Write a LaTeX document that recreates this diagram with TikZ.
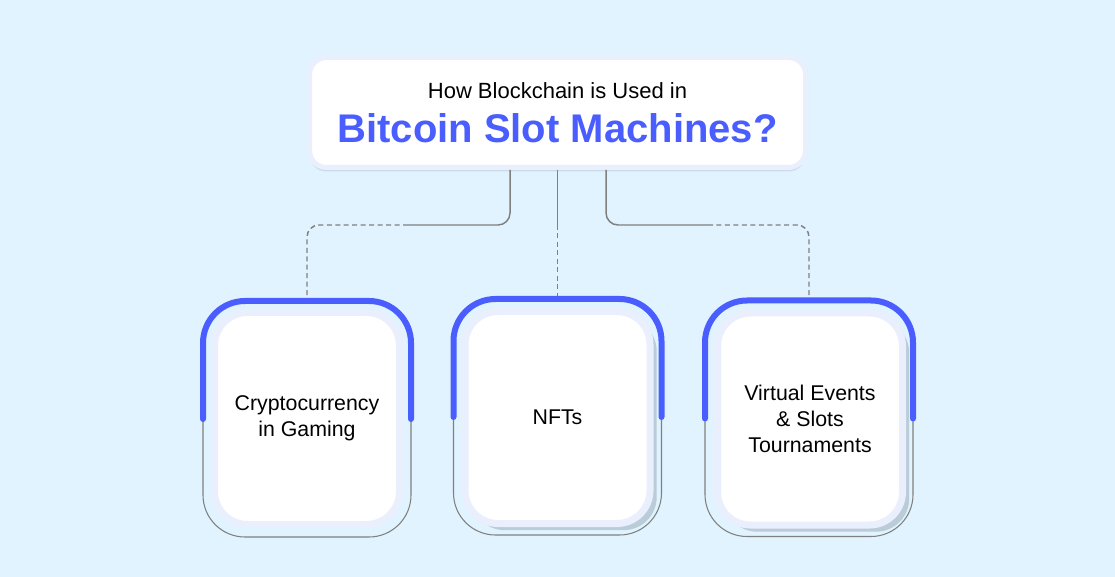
\documentclass[tikz,border=0pt]{standalone}
\usepackage{xcolor}
\usepackage{fontspec}
\setmainfont{Liberation Sans}
\usepackage{tikz}
\usetikzlibrary{positioning,shadows,calc}

\definecolor{bgblue}{RGB}{225,243,254}
\definecolor{lavender}{RGB}{233,239,253}
\definecolor{slotblue}{RGB}{74,93,255}
\definecolor{wiregray}{RGB}{128,128,128}
\definecolor{shadowgray}{RGB}{160,178,192}

\begin{document}
\begin{tikzpicture}[
    x=0.75pt, y=-0.75pt,
    headbox/.style={rectangle, draw=lavender, line width=3.75pt, fill=white, rounded corners=12.75pt, minimum width=372pt, minimum height=82.5pt, align=center, inner sep=0pt, font=\fontsize{16.5}{20}\selectfont, drop shadow={shadow xshift=0pt, shadow yshift=-3pt, opacity=.35, fill=shadowgray}},
    cardframe/.style={rectangle, draw=wiregray, line width=0.8pt, rounded corners=31.5pt, minimum width=156pt, minimum height=177pt, outer sep=0pt},
    cardbody/.style={rectangle, draw=lavender, line width=5.25pt, fill=white, rounded corners=24.75pt, minimum width=138.75pt, minimum height=159pt, align=center, font=\fontsize{16}{19.5}\selectfont},
    lifted/.style={drop shadow={shadow xshift=5pt, shadow yshift=-5pt, opacity=.6, fill=shadowgray}},
    toparc/.style={draw=slotblue, line width=4.5pt, line cap=round, rounded corners=31.5pt},
    wire/.style={draw=wiregray, line width=1.1pt, rounded corners=9pt},
    dashwire/.style={wire, dash pattern=on 3.75pt off 2.6pt}
]

\fill[bgblue] (0,0) rectangle (1115,577);

% title
\node[headbox] (title) at (557.5,112.5) {How Blockchain is Used in\\[10pt]{\color{slotblue}\bfseries\fontsize{30}{34}\selectfont Bitcoin Slot Machines?}};

% cards
\node[cardframe] (c1) at (307,419) {};
\node[cardframe] (c2) at (557.5,417) {};
\node[cardframe] (c3) at (809,418.5) {};

\node[cardbody] (b1) at (307,418.5) {Cryptocurrency\\in Gaming};
\node[cardbody, lifted] (b2) at (557.5,417.5) {NFTs};
\node[cardbody, lifted] (b3) at (810,419) {Virtual Events\\\& Slots\\Tournaments};

% connectors
\coordinate (jl) at (408,225);
\coordinate (jm) at (557.5,225);
\coordinate (jr) at (708,225);

\draw[wire] ([xshift=-35.6pt]title.south) |- (jl);
\draw[dashwire] (jl) -| (c1.north);
\draw[wire] (title.south) -- (jm);
\draw[dashwire] (jm) -- (c2.north);
\draw[wire] ([xshift=36.4pt]title.south) |- (jr);
\draw[dashwire] (jr) -| (c3.north);

\draw[toparc] (c1.west) |- (c1.north) -| (c1.east);
\draw[toparc] (c2.west) |- (c2.north) -| (c2.east);
\draw[toparc] (c3.west) |- (c3.north) -| (c3.east);

\end{tikzpicture}
\end{document}
